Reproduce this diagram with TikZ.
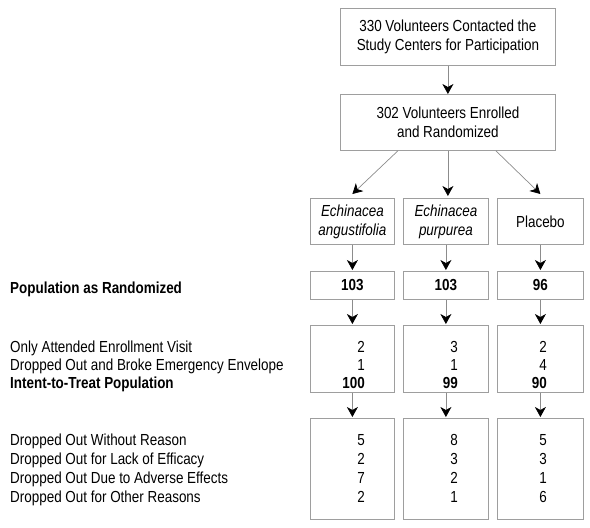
\documentclass[tikz,border=0pt]{standalone}
\usepackage{fontspec}
\setmainfont{Liberation Sans}[FakeStretch=0.84]
\usetikzlibrary{arrows.meta}
\tikzset{
  box/.style={draw=black!38, line width=0.8pt, inner sep=0pt, align=center,
    font=\fontsize{16}{19}\selectfont, anchor=north west},
  arr/.style={draw=black!45, line width=0.7pt,
    -{Stealth[length=10pt,width=11pt,inset=3pt,black]}},
  lbl/.style={anchor=base west, inner sep=0pt, font=\fontsize{16}{19}\selectfont},
  num/.style={anchor=base east, inner sep=0pt, font=\fontsize{16}{19}\selectfont},
}
\begin{document}
\begin{tikzpicture}[x=1pt,y=-1pt]
\useasboundingbox (0,0) rectangle (590,528);
% top boxes
\node[box, minimum width=215pt, minimum height=57pt] (top) at (340,8)
  {330 Volunteers Contacted the\\Study Centers for Participation};
\node[box, minimum width=215pt, minimum height=56pt] (enr) at (340,94)
  {302 Volunteers Enrolled\\and Randomized};
% group boxes
\node[box, minimum width=84pt, minimum height=46pt] (gA) at (310,198)
  {\itshape Echinacea\\\itshape angustifolia};
\node[box, minimum width=85pt, minimum height=46pt] (gB) at (403,198)
  {\itshape Echinacea\\\itshape purpurea};
\node[box, minimum width=86pt, minimum height=46pt] (gC) at (497,198)
  {Placebo};
% randomized
\node[box, minimum width=84pt, minimum height=28pt] (rA) at (310,271) {\bfseries 103};
\node[box, minimum width=85pt, minimum height=28pt] (rB) at (403,271) {\bfseries 103};
\node[box, minimum width=86pt, minimum height=28pt] (rC) at (497,271) {\bfseries 96};
% ITT boxes
\node[box, minimum width=84pt, minimum height=67pt] (iA) at (310,325) {};
\node[box, minimum width=85pt, minimum height=67pt] (iB) at (403,325) {};
\node[box, minimum width=86pt, minimum height=67pt] (iC) at (497,325) {};
% dropout boxes
\node[box, minimum width=84pt, minimum height=101pt] (dA) at (310,418) {};
\node[box, minimum width=85pt, minimum height=101pt] (dB) at (403,418) {};
\node[box, minimum width=86pt, minimum height=101pt] (dC) at (497,418) {};

% arrows
\draw[arr] (top) -- (enr);
\draw[arr] ([xshift=-50pt]enr.south) -- ([yshift=4pt]gA.north);
\draw[arr] (enr.south) -- ([yshift=2pt]enr.south |- gB.north);
\draw[arr] ([xshift=48pt]enr.south) -- ([yshift=4pt]gC.north);
\foreach \c in {A,B,C}{
  \draw[arr] (g\c) -- ([yshift=1pt]r\c.north);
  \draw[arr] (r\c) -- ([yshift=1pt]i\c.north);
  \draw[arr] (i\c) -- ([yshift=1pt]d\c.north);
}

% left labels
\node[lbl] (l0) at (10,293.5) {\bfseries Population as Randomized};
\node[lbl] (l1) at (10,352.5) {Only Attended Enrollment Visit};
\node[lbl] (l2) at (10,370) {Dropped Out and Broke Emergency Envelope};
\node[lbl] (l3) at (10,388) {\bfseries Intent-to-Treat Population};
\node[lbl] (l4) at (10,445.5) {Dropped Out Without Reason};
\node[lbl] (l5) at (10,464) {Dropped Out for Lack of Efficacy};
\node[lbl] (l6) at (10,483) {Dropped Out Due to Adverse Effects};
\node[lbl] (l7) at (10,502) {Dropped Out for Other Reasons};

% numbers ITT
\node[num] (a1) at (365,352.5) {2};
\node[num] (a2) at (365,370) {1};
\node[num] (a3) at (365,388) {\bfseries 100};
\node[num] (b1) at (458,352.5) {3};
\node[num] (b2) at (458,370) {1};
\node[num] (b3) at (458,388) {\bfseries 99};
\node[num] (c1) at (547,352.5) {2};
\node[num] (c2) at (547,370) {4};
\node[num] (c3) at (547,388) {\bfseries 90};
% numbers dropout
\node[num] (a4) at (365,445.5) {5};
\node[num] (a5) at (365,464) {2};
\node[num] (a6) at (365,483) {7};
\node[num] (a7) at (365,502) {2};
\node[num] (b4) at (458,445.5) {8};
\node[num] (b5) at (458,464) {3};
\node[num] (b6) at (458,483) {2};
\node[num] (b7) at (458,502) {1};
\node[num] (c4) at (547,445.5) {5};
\node[num] (c5) at (547,464) {3};
\node[num] (c6) at (547,483) {1};
\node[num] (c7) at (547,502) {6};
\end{tikzpicture}
\end{document}
